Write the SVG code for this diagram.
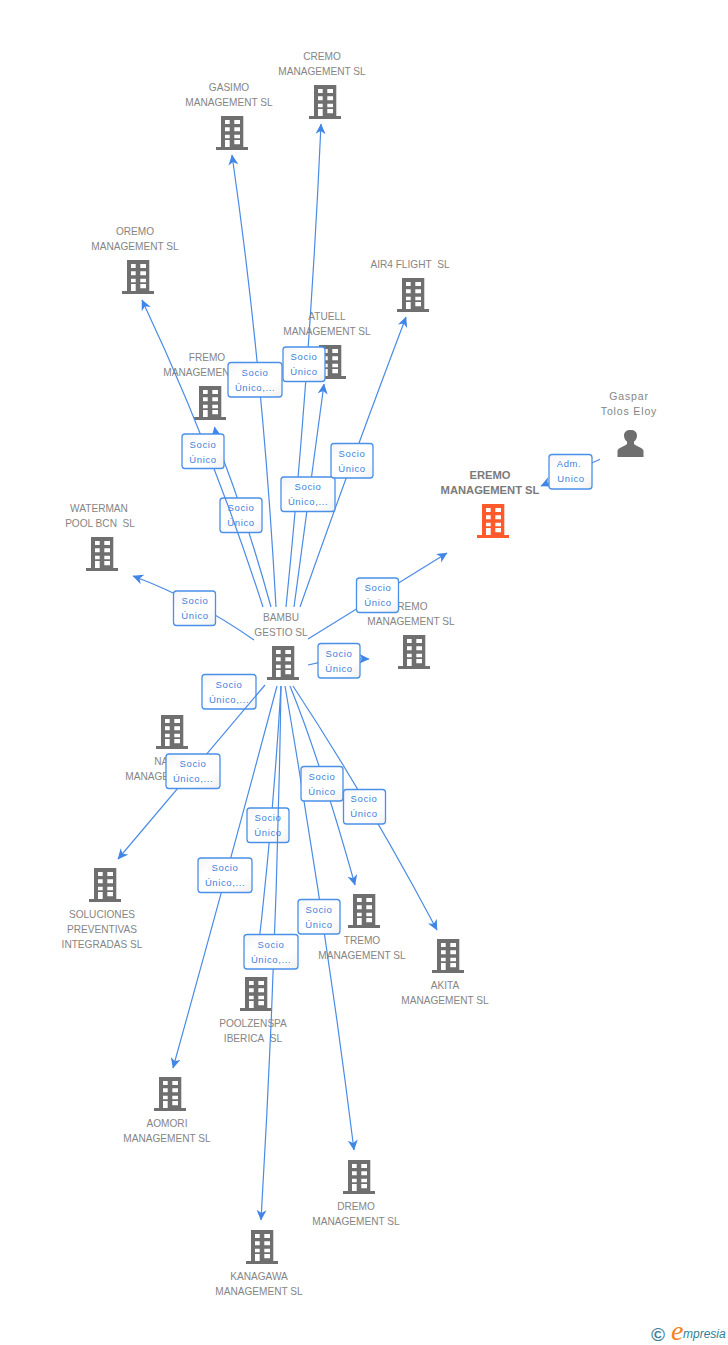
<svg xmlns="http://www.w3.org/2000/svg" width="728" height="1345" viewBox="0 0 728 1345">
<style>
text{font-family:"Liberation Sans",Arial,sans-serif}
.l{font-size:10.1px;fill:#858585;text-anchor:middle}
.s{font-size:10.5px;fill:#858585;text-anchor:middle;letter-spacing:.85px}
.m{font-size:11.2px;font-weight:bold;fill:#7a7a7a;text-anchor:middle}
.e{fill:none;stroke:#4a8be6;stroke-width:1.2;marker-end:url(#a)}
.b{fill:url(#g);stroke:#4a90e8;stroke-width:1.3}
.t{font-size:9.5px;fill:#3f7fdc;text-anchor:middle;letter-spacing:.6px}
.bld{fill:#6f6f6f}
</style>
<defs>
<marker id="a" markerUnits="userSpaceOnUse" markerWidth="12" markerHeight="11" refX="10" refY="5.500" orient="auto"><path d="M0 0.500L10.500 5.500L0 10.500L3 5.500Z" fill="#3f86e6"/></marker>
<linearGradient id="g" x1="0" y1="0" x2="1" y2="1"><stop offset="0" stop-color="#f4f4f4"/><stop offset=".3" stop-color="#fff"/><stop offset=".7" stop-color="#fff"/><stop offset="1" stop-color="#f0f0f0"/></linearGradient>
<path id="h" fill-rule="evenodd" d="M5 0H27.300V31H32V34H0V31H5ZM9 4V8H13.700V4ZM18.300 4V8H24V4ZM9 11.300V15.300H13.700V11.300ZM18.300 11.300V15.300H24V11.300ZM9 18.700V22.300H13.700V18.700ZM18.300 18.700V22.300H24V18.700ZM9 24V31H13.700V24ZM18.300 24V28.300H24V24Z"/>
</defs>
<g id="connectors">
<path class="e" d="M286 607Q310 370 321 124"/>
<path class="e" d="M276 607Q263 370 232 155"/>
<path class="e" d="M271 607Q250 530 224.300 462Q218 445 214.500 427"/>
<path class="e" d="M294 607Q309 495 324 384"/>
<path class="e" d="M300 607Q350 465 406 317"/>
<path class="e" d="M254 640Q197 600 133 576"/>
<path class="e" d="M308 639L447 553"/>
<path class="e" d="M308 665Q334 658 369 659"/>
<path class="e" d="M290 686Q320 760 355 885"/>
<path class="e" d="M293 686Q368 800 437 930"/>
<path class="e" d="M281 686Q272.500 830 256 968"/>
<path class="e" d="M285 686Q325 918 354 1150"/>
<path class="e" d="M277 686Q228 870 173 1068"/>
<path class="e" d="M600 459.300L541 486"/>
</g>
<g id="n1"><text class="l" x="322" y="60">CREMO</text><text class="l" x="322" y="75">MANAGEMENT SL</text><use href="#h" class="bld" x="309" y="85"/></g>
<g id="n2"><text class="l" x="229" y="91">GASIMO</text><text class="l" x="229" y="106">MANAGEMENT SL</text><use href="#h" class="bld" x="216" y="116"/></g>
<g id="n3"><text class="l" x="135" y="235">OREMO</text><text class="l" x="135" y="250">MANAGEMENT SL</text><use href="#h" class="bld" x="122" y="260"/></g>
<g id="n4"><text class="l" x="410" y="268">AIR4 FLIGHT&#160; SL</text><use href="#h" class="bld" x="397" y="278"/></g>
<g id="n5"><text class="l" x="327" y="320">ATUELL</text><text class="l" x="327" y="335">MANAGEMENT SL</text><use href="#h" class="bld" x="314" y="345"/></g>
<g id="n6"><text class="l" x="207" y="361">FREMO</text><text class="l" x="207" y="376">MANAGEMENT SL</text><use href="#h" class="bld" x="194" y="386"/></g>
<g id="n7"><text class="l" x="99" y="512">WATERMAN</text><text class="l" x="100" y="527">POOL BCN&#160; SL</text><use href="#h" class="bld" x="86" y="537"/></g>
<g id="n8"><text class="m" x="490" y="479">EREMO</text><text class="m" x="490" y="494">MANAGEMENT SL</text><use href="#h" fill="#ff5a2c" x="477" y="504"/></g>
<g id="n9"><text class="l" x="411" y="610">IREMO</text><text class="l" x="411" y="625">MANAGEMENT SL</text><use href="#h" class="bld" x="398" y="635"/></g>
<g id="n10"><text class="l" x="281" y="621">BAMBU</text><text class="l" x="281" y="636">GESTIO SL</text><use href="#h" class="bld" x="267" y="646"/></g>
<g id="n11"><use href="#h" class="bld" x="156" y="715"/><text class="l" x="154.300" y="765" style="text-anchor:start">NA</text><text class="l" x="169" y="780">MANAGEMENT SL</text></g>
<g id="n12"><use href="#h" class="bld" x="89" y="868"/><text class="l" x="102" y="918">SOLUCIONES</text><text class="l" x="102" y="933">PREVENTIVAS</text><text class="l" x="102" y="948">INTEGRADAS SL</text></g>
<g id="n13"><use href="#h" class="bld" x="348" y="894"/><text class="l" x="362" y="944">TREMO</text><text class="l" x="362" y="959">MANAGEMENT SL</text></g>
<g id="n14"><use href="#h" class="bld" x="432" y="939"/><text class="l" x="445" y="989">AKITA</text><text class="l" x="445" y="1004">MANAGEMENT SL</text></g>
<g id="n15"><use href="#h" class="bld" x="240" y="977"/><text class="l" x="253" y="1027">POOLZENSPA</text><text class="l" x="253" y="1042">IBERICA&#160; SL</text></g>
<g id="n16"><use href="#h" class="bld" x="154" y="1077"/><text class="l" x="167" y="1127">AOMORI</text><text class="l" x="167" y="1142">MANAGEMENT SL</text></g>
<g id="n17"><use href="#h" class="bld" x="343" y="1160"/><text class="l" x="356" y="1210">DREMO</text><text class="l" x="356" y="1225">MANAGEMENT SL</text></g>
<g id="n18"><use href="#h" class="bld" x="246" y="1230"/><text class="l" x="259" y="1280">KANAGAWA</text><text class="l" x="259" y="1295">MANAGEMENT SL</text></g>
<g id="n19"><text class="s" x="629" y="400">Gaspar</text><text class="s" x="629" y="415">Tolos Eloy</text><path fill="#6f6f6f" d="M617.500 457V451C618 447.500 624 446.500 627 444V441.500C624.500 440 624 437 624 435.500C624 432 626.500 430 630.500 430C634.500 430 637 432 637 435.500C637 437 636.500 440 634 441.500V444C637 446.500 643 447.500 643.500 451V457Z"/></g>
<g id="badges-under">
<g><rect class="b" x="202" y="674.500" width="54" height="34.500" rx="3"/><text class="t" x="229" y="688">Socio</text><text class="t" x="229" y="703">Único,...</text></g>
<g><rect class="b" x="220" y="498" width="42" height="34.500" rx="3"/><text class="t" x="241" y="511">Socio</text><text class="t" x="241" y="526">Único</text></g>
<g><rect class="b" x="247" y="808" width="42" height="34.500" rx="3"/><text class="t" x="268" y="821">Socio</text><text class="t" x="268" y="836">Único</text></g>
</g>
<g id="connectors-over">
<path class="e" d="M263 607Q211 446 142 300"/>
<path class="e" d="M265 685L118 859"/>
<path class="e" d="M281 686Q277 950 261 1220"/>
</g>
<g id="badges">
<g><rect class="b" x="228" y="362.500" width="54" height="34.500" rx="3"/><text class="t" x="255" y="376">Socio</text><text class="t" x="255" y="391">Único,...</text></g>
<g><rect class="b" x="283" y="347" width="42" height="34.500" rx="3"/><text class="t" x="304" y="360">Socio</text><text class="t" x="304" y="375">Único</text></g>
<g><rect class="b" x="182" y="434" width="42" height="34.500" rx="3"/><text class="t" x="203" y="448">Socio</text><text class="t" x="203" y="463">Único</text></g>
<g><rect class="b" x="281" y="477" width="54" height="34.500" rx="3"/><text class="t" x="308" y="490">Socio</text><text class="t" x="308" y="505">Único,...</text></g>
<g><rect class="b" x="331" y="443.500" width="42" height="34.500" rx="3"/><text class="t" x="352" y="457">Socio</text><text class="t" x="352" y="472">Único</text></g>
<g><rect class="b" x="549" y="454.500" width="43" height="34.500" rx="3"/><text class="t" x="569" y="467">Adm.</text><text class="t" x="571" y="482">Unico</text></g>
<g><rect class="b" x="173.500" y="591" width="42" height="34.500" rx="3"/><text class="t" x="195" y="604">Socio</text><text class="t" x="195" y="619">Único</text></g>
<g><rect class="b" x="356.500" y="578" width="42" height="34.500" rx="3"/><text class="t" x="378" y="591">Socio</text><text class="t" x="378" y="606">Único</text></g>
<g><rect class="b" x="318" y="643.500" width="42" height="34.500" rx="3"/><text class="t" x="339" y="657">Socio</text><text class="t" x="339" y="672">Único</text></g>
<g><rect class="b" x="166" y="754" width="54" height="34.500" rx="3"/><text class="t" x="193" y="767">Socio</text><text class="t" x="193" y="782">Único,...</text></g>
<g><rect class="b" x="301" y="766.500" width="42" height="34.500" rx="3"/><text class="t" x="322" y="780">Socio</text><text class="t" x="322" y="795">Único</text></g>
<g><rect class="b" x="343.500" y="789.500" width="42" height="34.500" rx="3"/><text class="t" x="364" y="802">Socio</text><text class="t" x="364" y="817">Único</text></g>
<g><rect class="b" x="198" y="858" width="54" height="34.500" rx="3"/><text class="t" x="225" y="871">Socio</text><text class="t" x="225" y="886">Único,...</text></g>
<g><rect class="b" x="298" y="899.500" width="42" height="34.500" rx="3"/><text class="t" x="319" y="913">Socio</text><text class="t" x="319" y="928">Único</text></g>
<g><rect class="b" x="244" y="934.500" width="54" height="34.500" rx="3"/><text class="t" x="271" y="948">Socio</text><text class="t" x="271" y="963">Único,...</text></g>
</g>
<g id="logo"><text x="658" y="1340.500" font-size="19" font-weight="bold" fill="#3f7f99" text-anchor="middle">©</text><text x="671" y="1340" font-size="28" font-style="italic" fill="#f58220" style="font-family:'Liberation Serif',serif">e</text><text x="683" y="1338" font-size="12" font-style="italic" fill="#2f7f93">mpresia</text></g>
</svg>
